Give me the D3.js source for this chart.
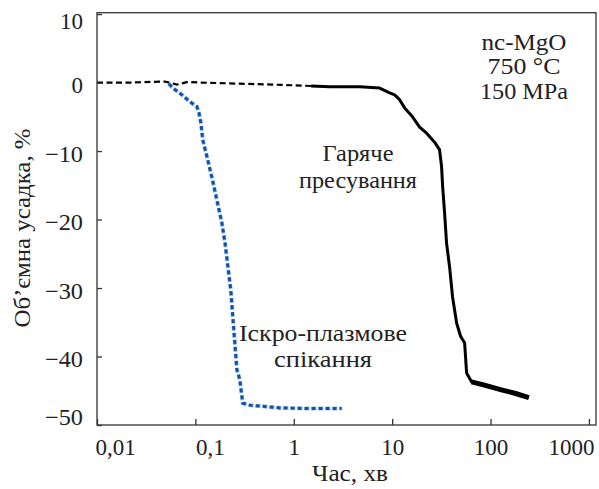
<!DOCTYPE html>
<html>
<head>
<meta charset="utf-8">
<script src="https://cdn.jsdelivr.net/npm/d3@7"></script>
<style>
  html, body { margin: 0; padding: 0; background: #fff; }
  svg { display: block; }
  text { font-family: "Liberation Serif", "DejaVu Serif", serif; fill: #222; }
</style>
</head>
<body>
<svg id="chart" width="599" height="489"></svg>
<script>
// ---- data ----
const xTicks = [0.01, 0.1, 1, 10, 100, 1000];
const xTickLabels = ["0,01", "0,1", "1", "10", "100", "1000"];
const yTicks = [10, 0, -10, -20, -30, -40, -50];
const yTickLabels = ["10", "0", "\u221210", "\u221220", "\u221230", "\u221240", "\u221250"];

// Hot pressing – early (dashed) part
const hotEarlyTime = [0.01, 0.0216, 0.049, 0.0649, 0.084, 0.111, 0.2, 0.357, 0.6, 1.0, 1.5];
const hotEarlyVal  = [0.0, 0.0, 0.15, -0.3, 0.1, 0.0, -0.1, -0.2, -0.3, -0.4, -0.5];
// Hot pressing – solid part
const hotTime = [1.5, 2.32, 4.68, 7.46, 9.43, 10.6, 11.9, 13.4, 16.1, 19.0, 22.4, 27.0, 30.3, 31.8, 32.6, 34.1, 35.7, 38.4, 41.1, 45.2, 49.5, 50.8, 54.5, 57.1, 64.1, 83, 132, 180, 245];
const hotVal  = [-0.5, -0.6, -0.6, -0.8, -1.5, -1.8, -2.5, -3.7, -5.0, -6.5, -7.4, -8.7, -9.8, -12.3, -15.2, -19.0, -23.4, -27.0, -31.3, -35.1, -37.0, -37.3, -38.0, -42.4, -43.7, -44.1, -44.9, -45.4, -46.0];

// Spark plasma sintering
const sparkTime = [0.0538, 0.0592, 0.0747, 0.0879, 0.1035, 0.1086, 0.1138, 0.119, 0.131, 0.147, 0.165, 0.186, 0.200, 0.214, 0.229, 0.240, 0.264, 0.283, 0.303, 0.357, 0.72, 1.45, 3.07];
const sparkVal  = [-0.2, -0.8, -1.9, -2.8, -3.5, -4.4, -5.9, -8.4, -10.8, -13.8, -17.1, -20.5, -23.4, -26.9, -30.3, -34.2, -41.9, -43.4, -46.8, -47.1, -47.5, -47.6, -47.6];

const xLabel = "Час, хв";
const yLabel = "Об\u2019ємна усадка, %";
const infoLines = ["nc-MgO", "750 \u00B0C", "150 MPa"];
const hotLabel = ["Гаряче", "пресування"];
const sparkLabel = ["Іскро-плазмове", "спікання"];

// ---- drawing ----
const svg = d3.select("#chart");
const L = 97, R = 596, T = 12.7, B = 425;
const FS = 23;

// widen text to match the wider serif face of the original
function fitWidth(sel, w) {
  sel.attr("textLength", w).attr("lengthAdjust", "spacingAndGlyphs");
}

const x = d3.scaleLog().domain([0.01, 1180]).range([L, R]);
const y = d3.scaleLinear().domain([-50, 10.2]).range([B, T]);

const toPts = (ts, vs) => ts.map((t, i) => [t, vs[i]]);
const line = d3.line().x(d => x(d[0])).y(d => y(d[1])).curve(d3.curveLinear);

// curves
svg.append("path").datum(toPts(hotEarlyTime, hotEarlyVal))
  .attr("d", line).attr("fill", "none").attr("stroke", "#000")
  .attr("stroke-width", 2.2).attr("stroke-dasharray", "6,3.5");

const hotPts = toPts(hotTime, hotVal);
svg.append("path").datum(hotPts)
  .attr("d", line).attr("fill", "none").attr("stroke", "#000")
  .attr("stroke-width", 3).attr("stroke-linejoin", "round");
svg.append("path").datum(hotPts.filter(d => d[0] >= 60))
  .attr("d", line).attr("fill", "none").attr("stroke", "#000")
  .attr("stroke-width", 5).attr("stroke-linejoin", "round");

svg.append("path").datum(toPts(sparkTime, sparkVal))
  .attr("d", line).attr("fill", "none").attr("stroke", "#8cc8ee")
  .attr("stroke-width", 4).attr("stroke-dasharray", "5,2");
svg.append("path").datum(toPts(sparkTime, sparkVal))
  .attr("d", line).attr("fill", "none").attr("stroke", "#1a4ea6")
  .attr("stroke-width", 3).attr("stroke-dasharray", "4,3");

// frame
svg.append("rect").attr("x", L).attr("y", T).attr("width", R - L).attr("height", B - T)
  .attr("fill", "none").attr("stroke", "#333").attr("stroke-width", 1.3);

// x axis
const xAxis = svg.append("g").attr("transform", `translate(0,${B})`)
  .call(d3.axisBottom(x).tickValues(xTicks).tickSizeInner(-6).tickSizeOuter(0)
    .tickPadding(14).tickFormat((d, i) => xTickLabels[i]));
xAxis.select(".domain").remove();
xAxis.selectAll("line").attr("stroke", "#333").attr("stroke-width", 1.3);
xAxis.selectAll("text").attr("font-size", FS).attr("font-family", "Liberation Serif")
  .attr("fill", "#222")
  .attr("text-anchor", (d, i) => i === 0 || i === 1 ? "start" : (i === xTicks.length - 1 ? "end" : "middle"))
  .attr("dx", (d, i) => i === 0 ? -2 : (i === xTicks.length - 1 ? (594 - x(d)) : 0));

// y axis
const yAxis = svg.append("g").attr("transform", `translate(${L},0)`)
  .call(d3.axisLeft(y).tickValues(yTicks).tickSizeInner(-5).tickSizeOuter(0)
    .tickPadding(14).tickFormat((d, i) => yTickLabels[i]));
yAxis.select(".domain").remove();
yAxis.selectAll("line").attr("stroke", "#333").attr("stroke-width", 1.3);
yAxis.selectAll("text").attr("font-size", FS).attr("font-family", "Liberation Serif")
  .attr("fill", "#222").attr("dy", null)
  .attr("dominant-baseline", "central")
  .attr("y", d => {
    const c = Math.min(Math.max(y(d) + 2.5, T + 8), B - 8.5);
    return c - y(d);
  });
yAxis.selectAll("text").filter(d => d < 0).call(fitWidth, 38);

// axis titles
svg.append("text").attr("x", 350).attr("y", 481).attr("text-anchor", "middle")
  .attr("font-size", FS).text(xLabel).call(fitWidth, 76);
svg.append("text").attr("transform", "translate(30,228) rotate(-90)")
  .attr("text-anchor", "middle").attr("font-size", FS).text(yLabel).call(fitWidth, 199);

// annotations
const infoW = [85, 73, 88];
svg.append("g").selectAll("text").data(infoLines).join("text")
  .attr("x", 524).attr("y", (d, i) => 50 + i * 24.3)
  .attr("text-anchor", "middle").attr("font-size", FS).text(d => d)
  .each(function (d, i) { fitWidth(d3.select(this), infoW[i]); });
const hotW = [71, 118];
svg.append("g").selectAll("text").data(hotLabel).join("text")
  .attr("x", 358).attr("y", (d, i) => 161 + i * 27)
  .attr("text-anchor", "middle").attr("font-size", FS).text(d => d)
  .each(function (d, i) { fitWidth(d3.select(this), hotW[i]); });
const sparkW = [168, 98];
svg.append("g").selectAll("text").data(sparkLabel).join("text")
  .attr("x", 323).attr("y", (d, i) => 341 + i * 26)
  .attr("text-anchor", "middle").attr("font-size", FS).text(d => d)
  .each(function (d, i) { fitWidth(d3.select(this), sparkW[i]); });
</script>
</body>
</html>
